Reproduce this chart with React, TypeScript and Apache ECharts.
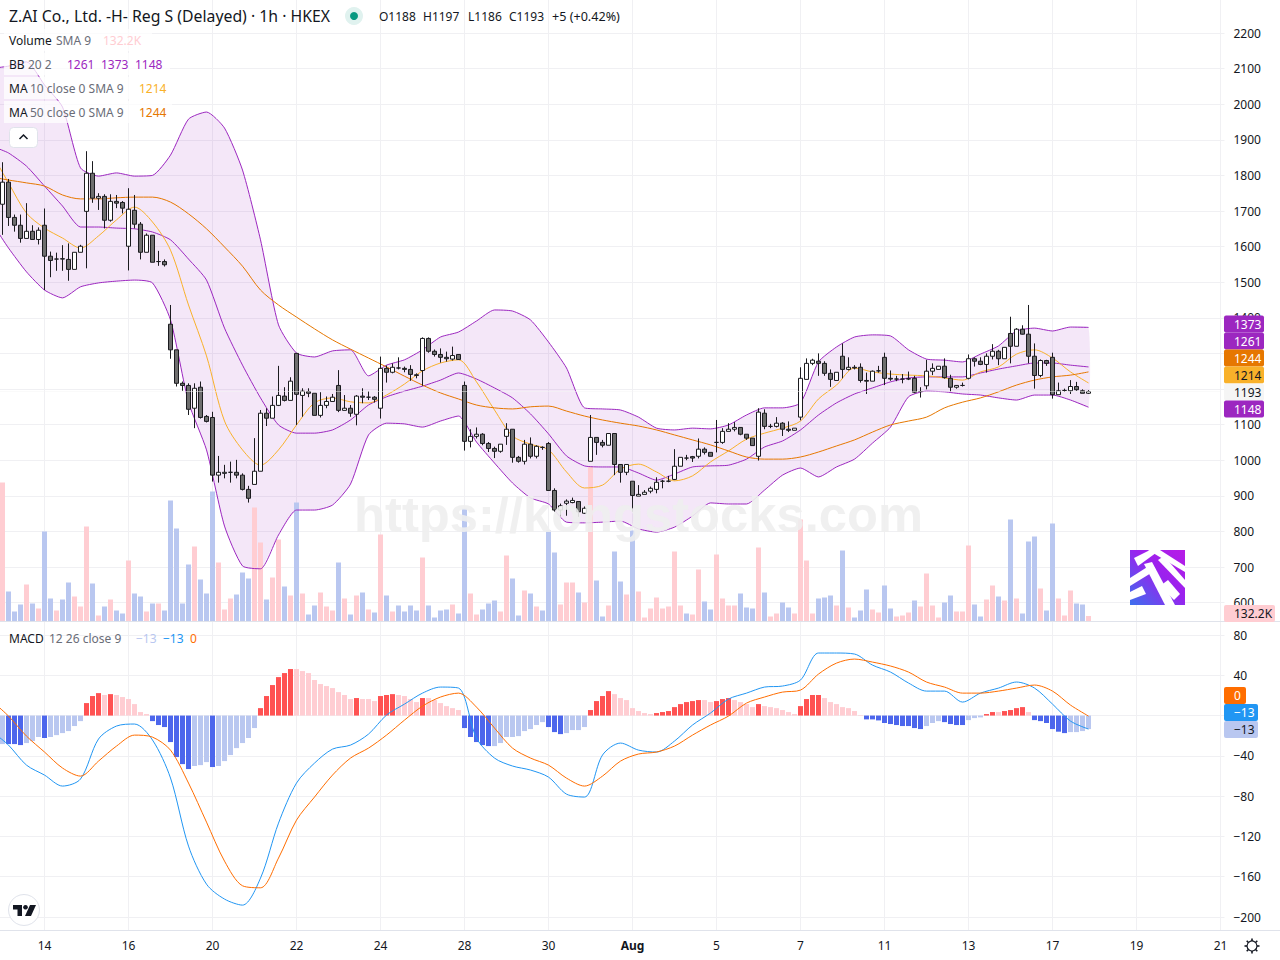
import React, { useEffect, useRef } from "react";
import * as echarts from "echarts";

const tickLabels = ["14", "16", "20", "22", "24", "28", "30", "Aug", "5", "7", "11", "13", "17", "19", "21"];

const opens = [
  1719,1781,1682,1660,1623,1643,1620,1660,1573,1565,
  1566,1564,1536,1584,1699,1806,1736,1741,1674,1727,
  1724,1601,1702,1663,1584,1632,1558,1558,1382,1310,
  1216,1210,1146,1205,1123,1120,958,963,966,966,
  958,918,932,969,1132,1118,1154,1180,1168,1300,
  1182,1193,1188,1126,1154,1165,1210,1140,1146,1129,
  1180,1177,1177,1146,1258,1247,1259,1258,1255,1240,
  1252,1342,1306,1297,1289,1284,1297,1210,1053,1067,
  1073,1047,1033,1025,1067,1087,1008,997,1045,1011,
  1036,1047,915,860,879,881,884,851,997,1064,
  1050,1042,1075,988,966,941,899,904,913,918,
  941,941,946,983,1006,1010,1011,1031,1022,1050,
  1050,1081,1087,1092,1073,1062,1011,1132,1095,1095,
  1104,1087,1084,1121,1227,1272,1278,1272,1244,1224,
  1292,1255,1261,1261,1224,1222,1251,1289,1230,1228,
  1228,1229,1230,1193,1209,1250,1255,1264,1230,1205,
  1210,1230,1285,1278,1269,1292,1306,1285,1356,1320,
  1368,1354,1292,1238,1280,1289,1184,1196,1195,1207,
  1195,1188,
];
const closes = [
  1781,1682,1660,1623,1643,1620,1646,1573,1561,1565,
  1565,1536,1584,1601,1806,1736,1741,1674,1727,1722,
  1708,1705,1663,1584,1632,1556,1558,1549,1310,1216,
  1210,1143,1202,1120,1109,958,966,966,966,958,
  918,893,969,1132,1118,1154,1182,1168,1222,1185,
  1194,1188,1126,1154,1165,1177,1140,1146,1132,1180,
  1177,1177,1171,1258,1247,1261,1259,1255,1241,1238,
  1342,1306,1297,1289,1285,1294,1283,1053,1067,1073,
  1047,1033,1025,1045,1087,1008,997,1045,1011,1039,
  1036,915,860,872,885,887,855,865,1064,1050,
  1042,1075,988,966,988,901,904,910,921,938,
  941,941,983,1008,1006,1006,1031,1022,1011,1050,
  1081,1087,1092,1073,1062,1041,1135,1095,1095,1104,
  1087,1084,1090,1230,1272,1281,1272,1244,1227,1247,
  1255,1261,1259,1224,1222,1250,1251,1230,1228,1228,
  1228,1228,1191,1193,1250,1258,1264,1232,1205,1210,
  1210,1285,1278,1269,1292,1306,1285,1317,1320,1368,
  1354,1292,1238,1280,1272,1184,1195,1196,1207,1198,
  1188,1193,
];
const highs = [
  1837,1790,1690,1690,1722,1660,1654,1707,1586,1583,
  1604,1609,1584,1605,1868,1840,1750,1747,1747,1745,
  1728,1764,1745,1669,1637,1632,1588,1564,1436,1310,
  1221,1216,1216,1221,1127,1136,1012,987,996,1001,
  963,928,1062,1141,1146,1179,1265,1205,1233,1300,
  1202,1202,1188,1191,1179,1186,1253,1183,1155,1183,
  1202,1194,1180,1291,1266,1272,1289,1263,1267,1244,
  1345,1345,1311,1314,1305,1319,1298,1221,1087,1092,
  1076,1051,1038,1045,1104,1087,1012,1057,1064,1042,
  1039,1051,921,878,890,895,884,870,1127,1064,
  1057,1075,1075,988,988,941,930,916,926,952,
  945,956,1031,1008,1015,1012,1061,1036,1022,1113,
  1090,1104,1107,1092,1073,1062,1146,1143,1102,1121,
  1107,1109,1090,1261,1286,1285,1300,1278,1255,1247,
  1328,1289,1267,1272,1246,1252,1265,1302,1252,1237,
  1242,1249,1237,1205,1282,1272,1264,1286,1240,1211,
  1218,1297,1289,1289,1300,1326,1310,1317,1403,1371,
  1379,1436,1328,1283,1282,1302,1218,1201,1225,1220,
  1199,1197,
];
const lows = [
  1633,1658,1642,1611,1623,1620,1606,1478,1514,1532,
  1532,1504,1536,1584,1539,1723,1703,1651,1670,1708,
  1693,1533,1651,1564,1584,1556,1546,1544,1285,1207,
  1195,1127,1090,1117,1106,940,937,949,937,949,
  915,881,932,969,1096,1118,1152,1165,1168,1099,
  1122,1177,1126,1120,1146,1165,1135,1140,1122,1098,
  1160,1169,1162,1117,1218,1244,1255,1247,1223,1230,
  1209,1302,1291,1274,1277,1280,1282,1027,1036,1061,
  1042,1023,1006,1021,1043,993,993,988,1005,1005,
  1029,915,855,842,844,879,841,849,997,1015,
  1036,1042,958,937,958,855,899,904,907,907,
  921,938,944,983,1000,995,1005,1016,1011,1022,
  1046,1081,1081,1070,1057,1041,999,1087,1090,1092,
  1068,1079,1084,1112,1227,1267,1237,1237,1206,1224,
  1230,1252,1255,1218,1186,1222,1246,1211,1223,1222,
  1216,1225,1188,1176,1199,1239,1255,1229,1193,1201,
  1207,1227,1263,1267,1246,1283,1267,1285,1272,1320,
  1353,1272,1201,1233,1265,1173,1184,1192,1186,1195,
  1188,1186,
];

const volumeK = [
  3336,720,240,408,888,432,312,2160,552,264,
  528,936,600,360,2280,912,144,360,528,264,
  192,1464,672,600,240,432,432,264,2904,2232,
  432,1368,1800,1008,672,3120,1416,288,552,648,
  1176,1032,2736,1896,528,1056,1968,840,624,2856,
  672,168,384,696,360,264,1416,552,168,624,
  696,288,216,2088,624,240,384,240,384,264,
  1536,384,96,264,288,408,192,2712,672,168,
  288,432,504,240,1584,1032,144,744,672,360,
  264,2184,1656,408,936,936,696,456,3720,984,
  120,384,1680,960,648,2184,720,96,312,576,
  312,360,1680,384,192,168,1248,480,288,1608,
  552,384,384,672,336,312,1776,696,120,192,
  456,336,192,2448,1464,192,552,576,624,384,
  1704,336,96,264,768,288,216,864,312,120,
  144,216,504,360,1152,384,96,456,624,240,
  240,1824,408,120,528,864,600,504,2448,552,
  192,1920,2040,792,264,2352,552,144,744,432,
  408,132.2,
];
const volumeDirection = [
  "UDDDUDUDDU","DDUUUDUDUD","DUDDUDUDDD","DDUDDDUUUD","DDUUDUUDUD","UDDUUUDUDU",
  "DUDUDUDDDD","UDDDDUDDUU","DDDUUDDUDU","DDDUUUDUUD","DUDDUDUUUU","UUUUDUUDDU",
  "UUUDDDUDUU","DDUUUUDDDU","DUDDDUUDDU","UUDUUUUDDU","UUDDUUDUDU","DDDUDDUUUD","DU",
].join("");

const macdHist = [
  -28.3,-28.3,-28.3,-29.3,-27.3,-25.3,-21.3,-22.3,-21.3,-19.4,-17.4,-15.4,-10.4,-5.5,
  12.4,19.4,22.3,20.4,21.3,20.4,18.4,16.4,11.4,3.5,1.5,
  -5.5,-9.4,-11.4,-26.3,-41.2,-48.2,-53.1,-50.1,-49.2,-46.2,-51.1,-50.1,-45.2,-39.2,-32.3,-27.3,-22.3,-12.4,
  7.4,19.4,30.3,38.2,42.2,46.2,46.2,44.2,42.2,35.3,31.3,29.3,27.3,23.3,20.4,16.4,17.4,16.4,16.4,14.4,19.4,20.4,21.3,20.4,
  19.4,16.4,13.4,17.4,17.4,15.4,12.4,9.4,7.4,5.5,
  -12.4,-21.3,-26.3,-29.3,-30.3,-30.3,-27.3,-21.3,-21.3,-20.4,-15.4,-13.4,-9.4,-6.5,-11.4,-16.4,-18.4,-17.4,-14.4,-14.4,-11.4,
  5.5,14.4,19.4,24.3,21.3,17.4,15.4,7.4,4.5,2.5,1.5,2.5,3.5,4.5,8.4,11.4,13.4,14.4,15.4,15.4,13.4,14.4,16.4,17.4,15.4,13.4,11.4,8.4,11.4,9.4,8.4,7.4,5.5,3.5,1.5,
  9.4,16.4,20.4,20.4,17.4,13.4,11.4,8.4,7.4,4.5,0.5,
  -3.8,-3.8,-4.8,-7.4,-8.4,-9.4,-10.4,-10.4,-12.4,-13.4,-10.4,-7.4,-5.5,-6.5,-8.4,-9.4,-9.4,-4.5,-2.5,-1.8,
  1.5,3.5,3.5,4.5,5.5,7.4,8.4,3.5,
  -4.5,-5.5,-7.4,-13.4,-16,-17.4,-16.4,-16.4,-15.4,-13.4,
];
const macdHistStrength = [
  "LSSSLLLSLLLLLL","SSSLSLLLLLL","SSSSSSS","LLL","S","LLLLLLL","SSSSSS","LLLLLLLLLL","S","LLL","SSS","L",
  "LLL","S","LLLLLL","SSSSS","LLLLLLLLL","SSS","LLLL","SSSS","LLLLLLL","SSSSSSSS","LL","SSS","LLLL","S","LLLLLL",
  "SSSS","LLLLLLL","SSSSSSSSSS","LLL","SSSS","LLL","SS","L","SSSS","L","SSSSSS","LLLL",
].join("");

// The line studies are read at every third bar.
const bbUpper = [2102,2107,2119,2054,1992,1821,1798,1807,1798,1800,1857,1958,1978,1933,1815,1619,1380,1301,1290,1307,1310,1237,1267,1282,1310,1346,1360,1391,1422,1419,1394,1332,1259,1147,1144,1141,1121,1090,1085,1090,1088,1099,1127,1147,1147,1161,1276,1318,1346,1352,1349,1310,1284,1281,1276,1298,1321,1363,1371,1363,1374,1373];
const bbBasis = [1877,1863,1826,1770,1714,1655,1655,1652,1650,1641,1619,1565,1506,1371,1267,1175,1099,1076,1076,1085,1113,1155,1178,1194,1208,1225,1245,1228,1203,1175,1130,1074,1012,984,981,981,964,944,961,981,984,986,1003,1037,1054,1085,1127,1161,1186,1203,1220,1231,1234,1234,1234,1245,1256,1265,1273,1273,1267,1262];
const bbLower = [1647,1596,1529,1478,1456,1487,1498,1503,1506,1498,1394,1163,1029,815,703,695,790,860,860,874,933,1071,1104,1102,1093,1110,1124,1051,992,936,894,877,826,824,826,829,807,798,812,843,880,877,877,916,958,978,953,981,1003,1048,1093,1178,1194,1192,1186,1183,1175,1169,1183,1183,1169,1149];
const ma10 = [1838,1779,1694,1652,1624,1596,1630,1675,1711,1669,1590,1436,1293,1110,1029,986,1029,1099,1161,1175,1164,1161,1183,1214,1251,1273,1282,1220,1141,1068,1045,1029,967,922,930,975,989,967,942,956,995,1026,1059,1076,1090,1110,1172,1211,1259,1248,1242,1239,1237,1231,1225,1248,1262,1298,1310,1287,1248,1217];
const ma50 = [1793,1787,1779,1770,1745,1734,1734,1737,1739,1739,1725,1692,1650,1599,1545,1478,1436,1402,1369,1338,1312,1287,1262,1236,1211,1189,1172,1155,1147,1144,1150,1152,1138,1124,1113,1104,1096,1085,1071,1057,1043,1026,1009,1003,1003,1009,1023,1040,1057,1079,1099,1110,1121,1147,1163,1175,1192,1211,1225,1234,1239,1248];
const macdLine = [-19.4,-29.3,-49.2,-59.1,-70,-63,-23.3,-10.4,-8.4,-24.3,-62,-129.6,-167.4,-182.2,-188.2,-161.4,-106.8,-67,-47.2,-33.3,-29.3,-18.4,0.5,11.4,22.3,28.3,27.3,-22.3,-42.2,-50.1,-54.1,-61.1,-78,-80.9,-39.2,-27.3,-34.3,-36.2,-25.3,-9.4,2.5,16.4,22.3,28.3,29.3,35.3,62.1,62.1,61.1,50.1,43.2,32.3,24.3,24.3,13.4,22.3,27.3,33.3,27.3,11.4,-5.5,-13.4];
const macdSignal = [10.4,-0.5,-20.4,-36.2,-52.1,-60.1,-45.2,-30.3,-19.4,-21.4,-34.3,-67,-105.8,-144.5,-169,-171,-141.5,-103.8,-80.9,-59.1,-42.2,-32.3,-19.4,-4.5,9.4,18.4,22.3,8.4,-12.4,-32.3,-42.2,-49.2,-62.1,-70,-60.1,-45.2,-38.2,-36.2,-30.3,-19.4,-9.4,-0.5,12.4,18.4,23.3,25.3,41.2,52.1,56.1,53.1,49.2,43.2,33.3,28.3,22.3,22.3,24.3,27.3,30.3,24.3,10.4,-0.5];

const lastPrice = 1193;
const hiddenPriceLabels = [1200, 1300, 2300];

const categories: string[] = Array.from({ length: 205 }, (_, i) =>
  i >= 8 && (i - 8) % 14 === 0 ? tickLabels[(i - 8) / 14] : ""
);
const sampled = (a: number[]) => a.map((v, k) => [k === 0 ? 0 : 3 * k - 1, v]);
const pad = (a: any[]) => ["-", ...a];

const PINK = "#ffcdd2", LBLUE = "#b9c7f0", RED = "#ff5252", BLUE = "#4c66ec";
const PURPLE = "#9c27c0", MA10C = "#f9b12a", MA50C = "#e67700";
const MACDC = "#2196f3", SIGC = "#ff6d00";
const GRID = "#f0f0f3", INK = "#131722", GRAY = "#6a6d78";
const FONT = '"Noto Sans", sans-serif';

// The chart's div starts a little off the page so that the grids can start left of and above it.
const OX = 4, OY = 3;

const txt = (x: number, y: number, text: string, fill: string, size = 12, extra: any = {}) => ({
  type: "text", x, y, z: 120,
  style: { text, fill, font: `${extra.weight || "normal"} ${size}px ${FONT}`, align: extra.align || "left", verticalAlign: "middle" },
});
const rect = (x: number, y: number, w: number, h: number, fill: any, extra: any = {}) => ({
  type: "rect", x, y, z: extra.z ?? 110, shape: { x: 0, y: 0, width: w, height: h, r: extra.r ?? 0 },
  style: { fill, stroke: extra.stroke, lineWidth: extra.stroke ? 1 : 0, opacity: extra.opacity ?? 1 },
});
const badge = (y: number, w: number, text: string, bg: string, fg: string) => [
  rect(1224, y - 8.5, w, 17, bg, { r: 2, z: 115 }),
  txt(1234, y, text, fg),
];
const logoShapes = [
  [[4, 8], [20, 0], [30, 0], [8, 16]],
  [[18, 0], [30, 0], [55, 16], [55, 22]],
  [[0, 36], [0, 28], [22, 14], [26, 20]],
  [[14, 14], [22, 12], [45, 55], [35, 55]],
  [[28, 10], [34, 6], [55, 30], [55, 38]],
  [[0, 42], [12, 36], [16, 44], [0, 50]],
  [[30, 36], [38, 30], [50, 44], [44, 50]],
];

export default function App() {
  const ref = useRef<HTMLDivElement>(null);
  useEffect(() => {
    const chart = echarts.init(ref.current!, undefined, { renderer: "svg" });
    const xBase = { type: "category", data: categories, boundaryGap: false, axisLine: { show: false }, axisTick: { show: false }, axisLabel: { show: false }, splitLine: { show: false } };
    const upper = sampled(bbUpper), lower = sampled(bbLower);
    const line = (name: string, d: number[], color: string, ax: number, z: number, smooth = 0.3) => ({
      name, type: "line", data: sampled(d), xAxisIndex: ax, yAxisIndex: ax, showSymbol: false, symbol: "none", smooth,
      lineStyle: { color, width: 1 }, z, clip: false, silent: true,
    });
    const gear = Array.from({ length: 8 }, (_, i) => {
      const a = (i * Math.PI) / 4;
      return {
        type: "line", z: 120,
        shape: { x1: 1252 + 5 * Math.cos(a), y1: 946 + 5 * Math.sin(a), x2: 1252 + 7.5 * Math.cos(a), y2: 946 + 7.5 * Math.sin(a) },
        style: { stroke: INK, lineWidth: 1.6 },
      };
    });
    chart.setOption({
      animation: false,
      backgroundColor: "#ffffff",
      textStyle: { fontFamily: FONT },
      grid: [
        { left: -3.5 + OX, width: 1224, top: OY, height: 930 },
        { left: -3.5 + OX, width: 1224, top: -2.6 + OY, height: 605.2 },
        { left: -3.5 + OX, width: 1224, top: 461 + OY, height: 160.5 },
        { left: -3.5 + OX, width: 1224, top: 635 + OY, height: 282 },
      ],
      xAxis: [
        {
          ...xBase, gridIndex: 0,
          axisLabel: {
            show: true, interval: (_: number, v: string) => v !== "", margin: 9, color: INK, fontSize: 12, fontFamily: FONT,
            formatter: (v: string) => (v === "Aug" ? "{b|Aug}" : v),
            rich: { b: { fontWeight: "bold", fontSize: 12, color: INK, fontFamily: FONT } },
          },
          splitLine: { show: true, interval: (_: number, v: string) => v !== "", lineStyle: { color: GRID, width: 1 } },
        },
        { ...xBase, gridIndex: 1 },
        { ...xBase, gridIndex: 2 },
        { ...xBase, gridIndex: 3 },
      ],
      yAxis: [
        { gridIndex: 0, type: "value", show: false, min: 0, max: 1 },
        {
          gridIndex: 1, type: "value", position: "right", min: 600, max: 2300, interval: 100,
          axisLine: { show: false }, axisTick: { show: true, length: 4, lineStyle: { color: GRID } },
          axisLabel: { margin: 13, color: INK, fontSize: 12, fontFamily: FONT, align: "left", formatter: (v: number) => (hiddenPriceLabels.includes(v) ? "" : String(v)) },
          splitLine: { show: true, lineStyle: { color: GRID, width: 1 } },
        },
        { gridIndex: 2, type: "value", show: false, min: 0, max: 3852 },
        {
          gridIndex: 3, type: "value", position: "right", min: -200, max: 80, interval: 40,
          axisLine: { show: false }, axisTick: { show: true, length: 4, lineStyle: { color: GRID } },
          axisLabel: { margin: 13, color: INK, fontSize: 12, fontFamily: FONT, align: "left", formatter: (v: number) => (v === 0 ? "" : String(v).replace("-", "\u2212")) },
          splitLine: { show: true, lineStyle: { color: GRID, width: 1 } },
        },
      ],
      series: [
        {
          name: "BB fill", type: "custom", xAxisIndex: 1, yAxisIndex: 1, z: 1, silent: true, clip: false,
          data: [[0, 1000]],
          renderItem: (_: any, api: any) => ({
            type: "polygon",
            shape: { points: [...upper, ...[...lower].reverse()].map((p) => api.coord(p)), smooth: 0.15 },
            style: { fill: "rgba(156,39,192,0.11)" },
          }),
        },
        {
          name: "Volume", type: "bar", xAxisIndex: 2, yAxisIndex: 2, barWidth: 5, z: 2, clip: false, silent: true,
          data: pad(volumeK.map((v, i) => ({ value: v, itemStyle: { color: volumeDirection[i] === "U" ? PINK : LBLUE } }))),
        },
        line("BB upper", bbUpper, PURPLE, 1, 3, 0.2),
        line("BB basis", bbBasis, PURPLE, 1, 3, 0.2),
        line("BB lower", bbLower, PURPLE, 1, 3, 0.2),
        line("MA 10", ma10, MA10C, 1, 3),
        line("MA 50", ma50, MA50C, 1, 3),
        {
          name: "Price", type: "candlestick", xAxisIndex: 1, yAxisIndex: 1, barWidth: 4, z: 4, clip: false, silent: true,
          itemStyle: { color: "#ffffff", color0: "#6e6e6e", borderColor: "#1b1b1f", borderColor0: "#1b1b1f", borderWidth: 1 },
          data: pad(opens.map((o, i) => [o, closes[i], lows[i], highs[i]])),
          markLine: {
            silent: true, symbol: "none", animation: false, label: { show: false },
            lineStyle: { color: "#f5f5f5", type: "dotted", width: 1 },
            data: [{ yAxis: lastPrice }],
          },
        },
        {
          name: "Histogram", type: "bar", xAxisIndex: 3, yAxisIndex: 3, barWidth: 5, z: 2, clip: false, silent: true,
          data: pad(macdHist.map((v, i) => {
            const strong = macdHistStrength[i] === "S";
            return { value: v, itemStyle: { color: v >= 0 ? (strong ? RED : PINK) : strong ? BLUE : LBLUE } };
          })),
        },
        line("MACD", macdLine, MACDC, 3, 3),
        line("Signal", macdSignal, SIGC, 3, 3),
      ],
      graphic: {
        elements: [
          {
            type: "group", x: OX, y: OY,
            children: [
              { type: "line", z: 90, shape: { x1: -OX, y1: 621.5, x2: 1280, y2: 621.5 }, style: { stroke: "#e0e3eb", lineWidth: 1 } },
              { type: "line", z: 90, shape: { x1: -OX, y1: 930.5, x2: 1280, y2: 930.5 }, style: { stroke: "#e0e3eb", lineWidth: 1 } },

              // watermark
              { type: "text", x: 638.5, y: 514, z: 100, style: { text: "https://kongstocks.com", fill: "#eeeeee", opacity: 0.9, font: 'bold 50.7px "Liberation Sans", sans-serif', align: "center", verticalAlign: "middle" } },

              // watermark logo
              {
                type: "group", x: 1130, y: 550, z: 105,
                children: [
                  {
                    type: "rect", z: 105, shape: { x: 0, y: 0, width: 55, height: 55 },
                    style: { fill: new echarts.graphic.LinearGradient(0, 1, 1, 0, [{ offset: 0, color: "#3b70ee" }, { offset: 0.55, color: "#9a22ee" }, { offset: 1, color: "#b81ce6" }]) },
                  },
                  ...logoShapes.map((points) => ({ type: "polygon", z: 106, shape: { points }, style: { fill: "#ffffff" } })),
                ],
              },

              // legend backgrounds
              rect(4, 29, 148, 22, "rgba(255,255,255,0.75)", { z: 108 }),
              rect(4, 53, 166, 22, "rgba(255,255,255,0.75)", { z: 108 }),
              rect(4, 77, 168, 22, "rgba(255,255,255,0.75)", { z: 108 }),
              rect(4, 101, 168, 22, "rgba(255,255,255,0.75)", { z: 108 }),

              // header
              txt(9, 16, "Z.AI Co., Ltd. -H- Reg S (Delayed) \u00b7 1h \u00b7 HKEX", INK, 15.8),
              { type: "circle", z: 110, shape: { cx: 354, cy: 16, r: 9 }, style: { fill: "#e0f2ef" } },
              { type: "circle", z: 111, shape: { cx: 354, cy: 16, r: 4 }, style: { fill: "#089981" } },
              txt(379, 16, "O1188", INK), txt(423, 16, "H1197", INK), txt(468, 16, "L1186", INK), txt(509, 16, "C1193", INK), txt(552, 16, "+5 (+0.42%)", INK, 12.6),

              // indicator legends
              txt(9, 40, "Volume", INK), txt(56, 40, "SMA 9", GRAY), txt(103, 40, "132.2K", PINK),
              txt(9, 64, "BB", INK), txt(28, 64, "20 2", GRAY), txt(67, 64, "1261", PURPLE), txt(101, 64, "1373", PURPLE), txt(135, 64, "1148", PURPLE),
              txt(9, 88, "MA", INK), txt(30, 88, "10 close 0 SMA 9", GRAY), txt(139, 88, "1214", MA10C),
              txt(9, 112, "MA", INK), txt(30, 112, "50 close 0 SMA 9", GRAY), txt(139, 112, "1244", MA50C),
              txt(9, 638, "MACD", INK), txt(49, 638, "12 26 close 9", GRAY), txt(136, 638, "\u221213", LBLUE), txt(163, 638, "\u221213", MACDC), txt(190, 638, "0", SIGC),

              // collapse button
              rect(9.5, 127.5, 28, 20, "#ffffff", { r: 4, stroke: "#e0e3eb", z: 115 }),
              { type: "polyline", z: 116, shape: { points: [[19.5, 139], [23.5, 135], [27.5, 139]] }, style: { stroke: INK, lineWidth: 1.5, fill: "none" } },

              // price badges
              ...badge(324, 40, "1373", PURPLE, "#ffffff"),
              ...badge(341, 40, "1261", PURPLE, "#ffffff"),
              ...badge(358, 40, "1244", MA50C, "#ffffff"),
              ...badge(375, 40, "1214", MA10C, INK),
              ...badge(392, 40, "1193", "#f5f5f5", INK),
              ...badge(409, 40, "1148", PURPLE, "#ffffff"),
              ...badge(613.5, 51, "132.2K", PINK, INK),
              ...badge(695.5, 22, "0", SIGC, "#ffffff"),
              ...badge(712.5, 34, "\u221213", MACDC, "#ffffff"),
              ...badge(729.5, 34, "\u221213", LBLUE, INK),

              // TradingView mark
              { type: "circle", z: 110, shape: { cx: 24, cy: 910, r: 15.5 }, style: { fill: "#ffffff", stroke: "#e0e3eb", lineWidth: 1 } },
              { type: "polygon", z: 111, shape: { points: [[13, 905], [22, 905], [22, 916], [17.5, 916], [17.5, 909.5], [13, 909.5]] }, style: { fill: INK } },
              { type: "circle", z: 111, shape: { cx: 25.5, cy: 907.3, r: 2.3 }, style: { fill: INK } },
              { type: "polygon", z: 111, shape: { points: [[30, 905], [36, 905], [31, 916], [25, 916]] }, style: { fill: INK } },

              // settings gear
              { type: "circle", z: 120, shape: { cx: 1252, cy: 946, r: 5 }, style: { fill: "none", stroke: INK, lineWidth: 1.2 } },
              ...gear,
            ],
          },
        ],
      },
    });
    return () => chart.dispose();
  }, []);
  return <div ref={ref} style={{ position: "absolute", left: -OX, top: -OY, width: 1280 + OX, height: 960 + OY }} />;
}
